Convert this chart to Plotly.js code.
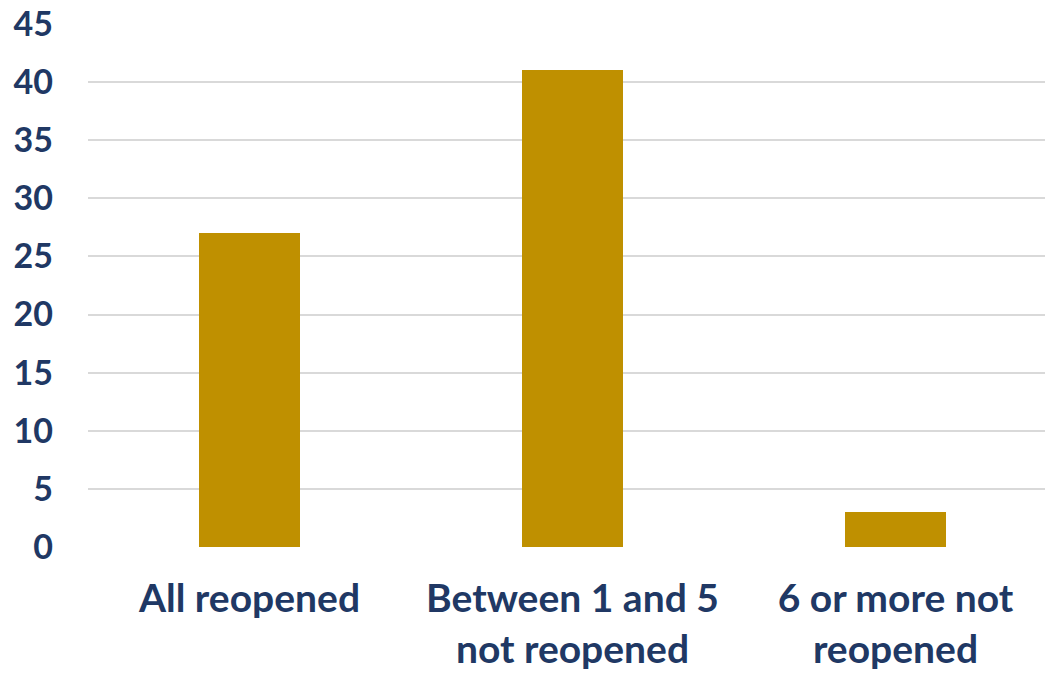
<!DOCTYPE html>
<html>
<head>
<meta charset="utf-8">
<script src="https://cdn.plot.ly/plotly-3.0.1.min.js"></script>
<style>html,body{margin:0;padding:0;background:#fff;}#chart{width:1045px;height:675px;}</style>
</head>
<body>
<div id="chart"></div>
<script>
var categories = ["All reopened", "Between 1 and 5<br>not reopened", "6 or more not<br>reopened"];
var values = [27, 41, 3];
var yTicks = [0, 5, 10, 15, 20, 25, 30, 35, 40, 45];

var navy = "#203864";
var trace = {
  type: "bar",
  x: [0, 1, 2],
  y: values,
  width: 0.313,
  marker: {color: "#BF9000"},
  hoverinfo: "skip"
};
var layout = {
  width: 1045, height: 675,
  margin: {l: 88, r: 0, t: 24, b: 128},
  paper_bgcolor: "#fff", plot_bgcolor: "#fff",
  showlegend: false,
  bargap: 0,
  xaxis: {
    range: [-0.5, 2.463],
    tickvals: [0, 1, 2],
    ticktext: categories,
    showgrid: false, zeroline: false, showline: false,
    ticks: "",
    ticklabelstandoff: 25,
    tickfont: {family: "Lato", size: 39, color: navy, weight: "bold"},
    fixedrange: true
  },
  yaxis: {
    range: [0, 45],
    tickvals: yTicks,
    ticktext: yTicks.map(String),
    showgrid: true, gridcolor: "#D9D9D9", gridwidth: 2,
    zeroline: false, showline: false, ticks: "",
    ticklabelstandoff: 34,
    tickfont: {family: "Lato", size: 34, color: navy, weight: "bold"},
    fixedrange: true
  }
};
Plotly.newPlot("chart", [trace], layout, {staticPlot: true, displayModeBar: false});
</script>
</body>
</html>
